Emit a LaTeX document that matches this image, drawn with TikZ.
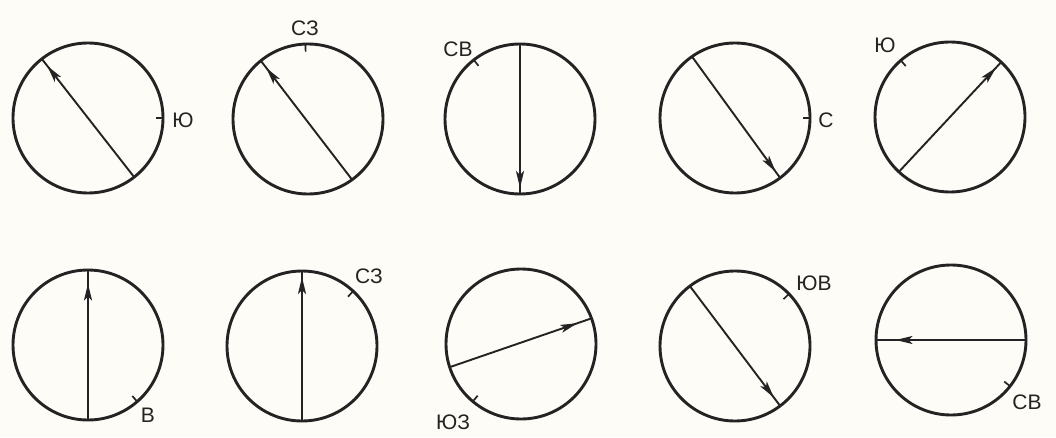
\documentclass[tikz,border=0pt]{standalone}
\usepackage{fontspec}
\setmainfont{Liberation Sans}
\usetikzlibrary{arrows.meta,decorations.markings,calc}
\definecolor{ink}{RGB}{35,35,35}
\definecolor{paper}{RGB}{253,252,246}
\tikzset{
  dial/.style={circle, draw=ink, line width=2.9pt, minimum size=150pt, inner sep=0pt, outer sep=0pt},
  needle/.style={draw=ink, line width=1.9pt},
  tipat/.style={postaction={decorate}, decoration={markings, mark=at position #1 with {\arrow[ink]{Stealth[length=17pt,width=8pt,inset=4pt]}}}},
  tick/.style={draw=ink, line width=1.7pt},
  lbl/.style={text=ink, font=\fontsize{21}{21}\selectfont, inner sep=0pt}
}
\newcommand{\dialtick}[2]{\draw[tick] (#1.#2) -- ($(#1.center)!0.9!(#1.#2)$);}
\begin{document}
\begin{tikzpicture}[x=1pt,y=1pt]
\fill[paper] (0,0) rectangle (1056,437);
\useasboundingbox (0,0) rectangle (1056,437);
% top row
\node[dial] (c1) at (88,319) {};
\node[dial] (c2) at (308,318) {};
\node[dial] (c3) at (520,318) {};
\node[dial] (c4) at (735,319) {};
\node[dial] (c5) at (950,320) {};
% bottom row
\node[dial] (c6) at (88,92) {};
\node[dial] (c7) at (302,91) {};
\node[dial] (c8) at (521,93) {};
\node[dial] (c9) at (735,91) {};
\node[dial] (c10) at (951,97) {};
% needles
\draw[needle, tipat=0.94] (c1.-52) -- (c1.128);
\draw[needle, tipat=0.94] (c2.-54) -- (c2.129);
\draw[needle, tipat=0.96] (c3.90) -- (c3.-90);
\draw[needle, tipat=0.95] (c4.125) -- (c4.-53);
\draw[needle, tipat=0.95] (c5.-133) -- (c5.47);
\draw[needle, tipat=0.91] (c6.-90) -- (c6.90);
\draw[needle, tipat=0.96] (c7.-90) -- (c7.90);
\draw[needle, tipat=0.90] (c8.-162) -- (c8.20);
\draw[needle, tipat=0.93] (c9.127) -- (c9.-53);
\draw[needle, tipat=0.87] (c10.0) -- (c10.180);
% ticks
\dialtick{c1}{0}
\dialtick{c2}{92}
\dialtick{c3}{128}
\dialtick{c4}{0}
\dialtick{c5}{131}
\dialtick{c6}{-49}
\dialtick{c7}{47}
\dialtick{c8}{-130}
\dialtick{c9}{44}
\dialtick{c10}{-38}
% labels
\node[lbl] (l1) at (183,317) {Ю};
\node[lbl] (l2) at (305,409) {СЗ};
\node[lbl] (l3) at (458,388) {СВ};
\node[lbl] (l4) at (826,317) {С};
\node[lbl] (l5) at (885,392) {Ю};
\node[lbl] (l6) at (148,22) {В};
\node[lbl] (l7) at (369,161) {СЗ};
\node[lbl] (l8) at (453,15) {ЮЗ};
\node[lbl] (l9) at (814,154) {ЮВ};
\node[lbl] (l10) at (1027,35) {СВ};
\end{tikzpicture}
\end{document}
